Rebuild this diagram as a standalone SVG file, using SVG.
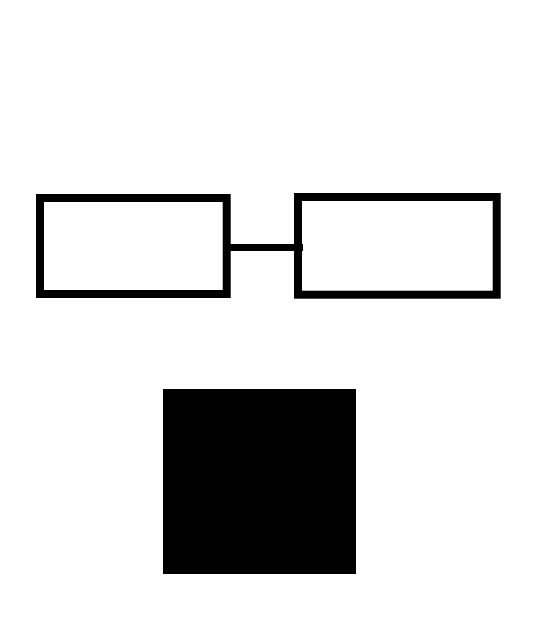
<svg xmlns="http://www.w3.org/2000/svg" width="537" height="634" viewBox="0 0 537 634">
<style>
.box{fill:#fff;stroke:#000;stroke-width:8}
.conn{stroke:#000;stroke-width:7;fill:none}
</style>
<rect width="537" height="634" fill="#fff"/>
<g id="node-left">
<rect class="box" x="40" y="198" width="186.7" height="96"/>
</g>
<g id="node-right">
<rect class="box" x="298" y="197" width="198.7" height="97.7"/>
</g>
<g id="node-square">
<rect x="163" y="389" width="193" height="185" fill="#000"/>
</g>
<g id="connectors">
<line class="conn" x1="230" y1="247.6" x2="303" y2="247.6"/>
</g>
</svg>
